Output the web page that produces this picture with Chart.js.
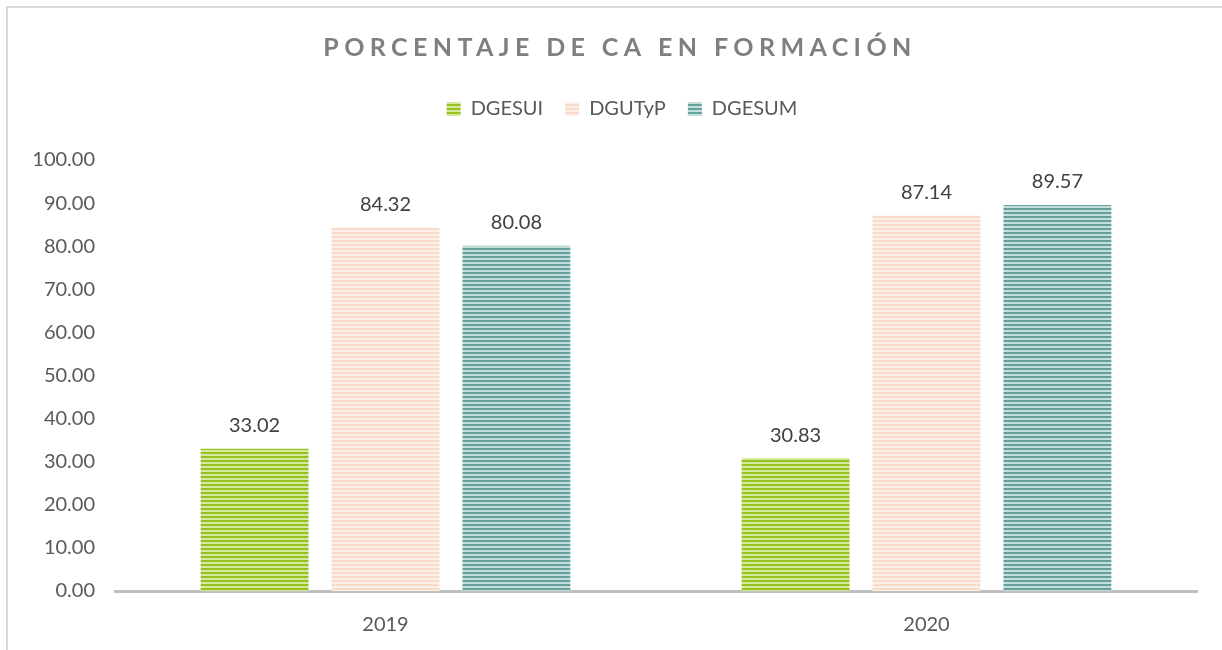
<!DOCTYPE html>
<html>
<head>
<meta charset="utf-8">
<script src="https://cdn.jsdelivr.net/npm/chart.js@4"></script>
<style>
    html, body { margin: 0; padding: 0; background: #fff; }
    #wrap { position: relative; width: 1222px; height: 650px; }
    #frame { position: absolute; left: 6px; top: 6px; right: -10px; bottom: -10px;
             border-top: 2px solid #d9d9d9; border-left: 2px solid #d9d9d9; }
    #grafica { position: absolute; left: 0; top: 0; }
</style>
</head>
<body>
<div id="wrap">
    <div id="frame"></div>
    <canvas id="grafica" width="1222" height="650"></canvas>
</div>
<script>
"use strict";

const YEARS = ['2019', '2020'];
const DGESUI = [33.02, 30.83];
const DGUTYP = [84.32, 87.14];
const DGESUM = [80.08, 89.57];
const TITLE = 'PORCENTAJE DE CA EN FORMACIÓN';

const FONT = 'Lato, "Open Sans", sans-serif';

// rayas horizontales como en el original
function stripes(dark, light) {
    const c = document.createElement('canvas');
    c.width = 4;
    c.height = 4;
    const g = c.getContext('2d');
    g.fillStyle = light;
    g.fillRect(0, 0, 4, 4);
    g.fillStyle = dark;
    g.fillRect(0, 0, 4, 2);
    return g.createPattern(c, 'repeat');
}

const greenFill = stripes('#97c11f', '#d4e9a0');
const pinkFill = stripes('#f8dacb', '#fdf0e9');
const tealFill = stripes('#67a19e', '#c4dedc');

const titlePlugin = {
    id: 'tituloEspaciado',
    afterDraw(chart) {
        const ctx = chart.ctx;
        ctx.save();
        ctx.font = 'bold 25px ' + FONT;
        ctx.fillStyle = '#7f7f7f';
        ctx.textAlign = 'center';
        ctx.textBaseline = 'middle';
        ctx.letterSpacing = '5.4px';
        ctx.fillText(TITLE, 620, 48);
        ctx.restore();
    }
};

const valuesPlugin = {
    id: 'etiquetas',
    afterDatasetsDraw(chart) {
        const ctx = chart.ctx;
        ctx.save();
        ctx.font = '20px ' + FONT;
        ctx.fillStyle = '#404040';
        ctx.textAlign = 'center';
        ctx.textBaseline = 'bottom';
        chart.data.datasets.forEach((ds, i) => {
            chart.getDatasetMeta(i).data.forEach((bar, j) => {
                ctx.fillText(ds.data[j].toFixed(2), bar.x, bar.y - 13);
            });
        });
        ctx.restore();
    }
};

// las etiquetas del eje Y se recortan a la caja de la escala: la ensanchamos
const unclipY = {
    id: 'sinRecorteY',
    afterLayout(chart) {
        chart.scales.y.left = 0;
    }
};

const ctx = document.getElementById('grafica').getContext('2d');
const grafica = new Chart(ctx, {
    type: 'bar',
    data: {
        labels: YEARS,
        datasets: [{
            label: 'DGESUI',
            backgroundColor: greenFill,
            data: DGESUI
        }, {
            label: 'DGUTyP',
            backgroundColor: pinkFill,
            data: DGUTYP
        }, {
            label: 'DGESUM',
            backgroundColor: tealFill,
            data: DGESUM
        }]
    },
    options: {
        responsive: false,
        animation: false,
        layout: {
            padding: { top: 77, right: 25, left: 47, bottom: 0 }
        },
        datasets: {
            bar: {
                categoryPercentage: 0.726,
                barPercentage: 0.824
            }
        },
        scales: {
            x: {
                grid: { display: false, drawTicks: false },
                border: { display: true, color: '#bfbfbf', width: 3 },
                ticks: {
                    color: '#595959',
                    font: { family: FONT, size: 20 },
                    padding: 22
                },
                afterFit(scale) { scale.height = 59; }
            },
            y: {
                min: 0,
                max: 100,
                grid: { display: false, drawTicks: false },
                border: { display: false },
                ticks: {
                    stepSize: 10,
                    color: '#595959',
                    font: { family: FONT, size: 20 },
                    padding: 20,
                    callback: v => v.toFixed(2)
                },
                afterFit(scale) { scale.width = 68; }
            }
        },
        plugins: {
            title: { display: false },
            // hueco vacío entre la leyenda y el área de trazado
            subtitle: {
                display: true,
                text: '',
                weight: 500,
                font: { size: 10 },
                padding: { top: 9, bottom: 10 }
            },
            tooltip: { enabled: false },
            legend: {
                display: true,
                labels: {
                    color: '#595959',
                    font: { family: FONT, size: 20 },
                    boxWidth: 14,
                    boxHeight: 14,
                    padding: 22
                }
            }
        }
    },
    plugins: [titlePlugin, valuesPlugin, unclipY]
});
</script>
</body>
</html>
